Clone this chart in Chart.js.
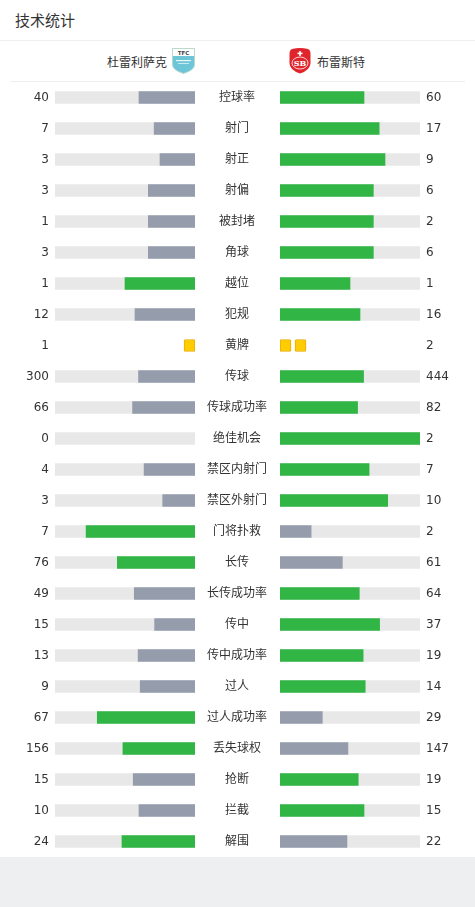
<!DOCTYPE html>
<html>
<head>
<meta charset="utf-8">
<script src="https://cdn.jsdelivr.net/npm/chart.js@4.4.1/dist/chart.umd.min.js"></script>
<style>
    body { margin: 0; background: #eeeff1; font-family: "DejaVu Sans", "Noto Sans CJK SC", sans-serif; color: #333; }
    #card { position: relative; width: 475px; height: 857px; background: #fff; }
    #title { position: absolute; left: 15px; top: 0; height: 40px; line-height: 40px; font-size: 15px; font-family: "Noto Sans CJK SC", sans-serif; }
    #line1 { position: absolute; left: 0; top: 40px; width: 475px; height: 1px; background: #f0f0f0; }
    #line2 { position: absolute; left: 10px; top: 81px; width: 455px; height: 1px; background: #eeeeee; }
    .team { position: absolute; top: 48px; height: 26px; display: flex; align-items: center; font-size: 12px; font-family: "Noto Sans CJK SC", sans-serif; }
    #home { right: 280px; }
    #home svg { margin-left: 5px; }
    #away { left: 289px; }
    #away svg { margin-right: 6px; }
    canvas { position: absolute; top: 82px; }
</style>
</head>
<body>
<div id="card">
    <div id="title">技术统计</div>
    <div id="line1"></div>
    <div class="team" id="home">
        <span>杜雷利萨克</span>
        <svg width="23" height="26" viewBox="0 0 23 26">
            <path d="M0.5 0.5 H22.5 V17 Q22.5 22 11.5 25.5 Q0.5 22 0.5 17 Z" fill="#6cc6d8" stroke="#b9d9c9" stroke-width="1"/>
            <rect x="1" y="1" width="21" height="7" fill="#ffffff"/>
            <text x="11.5" y="6.5" font-size="5.5" font-weight="bold" text-anchor="middle" fill="#444" font-family="DejaVu Sans">TFC</text>
            <rect x="4" y="12" width="15" height="1.2" fill="#e6f6f8"/>
            <rect x="6" y="15" width="11" height="0.8" fill="#e6f6f8"/>
        </svg>
    </div>
    <div class="team" id="away">
        <svg width="22" height="26" viewBox="0 0 22 26">
            <path d="M3 1 Q11 -1 19 1 Q21.5 2 21.5 6 V15 Q21.5 22 11 25.5 Q0.5 22 0.5 15 V6 Q0.5 2 3 1 Z" fill="#e0242b"/>
            <rect x="10.2" y="3" width="1.6" height="5" fill="#fff"/>
            <rect x="8.5" y="4.6" width="5" height="1.6" fill="#fff"/>
            <ellipse cx="11" cy="15" rx="8" ry="6" fill="none" stroke="#fff" stroke-width="0.8"/>
            <text x="11" y="18" font-size="8" font-weight="bold" text-anchor="middle" fill="#fff" font-family="DejaVu Serif">SB</text>
        </svg>
        <span>布雷斯特</span>
    </div>
    <div id="line2"></div>
    <canvas id="homeChart" width="195" height="775" style="left:0;width:195px;height:775px"></canvas>
    <canvas id="awayChart" width="280" height="775" style="left:195px;width:280px;height:775px"></canvas>
</div>
<script>
    // Statistiques du match
    var stats = ['控球率', '射门', '射正', '射偏', '被封堵', '角球', '越位', '犯规', '黄牌', '传球',
        '传球成功率', '绝佳机会', '禁区内射门', '禁区外射门', '门将扑救', '长传', '长传成功率', '传中',
        '传中成功率', '过人', '过人成功率', '丢失球权', '抢断', '拦截', '解围'];
    var homeValues = [40, 7, 3, 3, 1, 3, 1, 12, 1, 300, 66, 0, 4, 3, 7, 76, 49, 15, 13, 9, 67, 156, 15, 10, 24];
    var awayValues = [60, 17, 9, 6, 2, 6, 1, 16, 2, 444, 82, 2, 7, 10, 2, 61, 64, 37, 19, 14, 29, 147, 19, 15, 22];
    var cardStat = '黄牌';

    var GREEN = '#31b545';
    var GREY = '#959cac';
    var TRACK = '#e8e8e8';
    var CARD_SIZE = 11 / 140;
    var CARD_STEP = 15 / 140;
    var FONT = { family: '"DejaVu Sans", "Noto Sans CJK SC", sans-serif', size: 12 };

    function isCard(i) {
        return stats[i] === cardStat;
    }

    function share(mine, other, i) {
        if (isCard(i) || !mine) return null;
        return mine / (mine + other);
    }

    function buildDatasets(mine, other) {
        var datasets = [];
        datasets.push({
            label: 'fill',
            data: mine.map((v, i) => share(v, other[i], i)),
            backgroundColor: mine.map((v, i) => v >= other[i] ? GREEN : GREY),
            order: 1
        });
        datasets.push({
            label: 'track',
            data: stats.map((s, i) => isCard(i) ? null : 1),
            backgroundColor: TRACK,
            order: 2
        });
        // cartons : un petit carré par carton
        var cardIndex = stats.indexOf(cardStat);
        for (var k = 0; k < mine[cardIndex]; k++) {
            datasets.push({
                label: 'card' + k,
                data: stats.map((s, i) => isCard(i) ? [k * CARD_STEP, k * CARD_STEP + CARD_SIZE] : null),
                backgroundColor: '#ffcc00',
                borderColor: '#e8ab00',
                borderWidth: 1,
                borderSkipped: false,
                borderRadius: 1.5,
                order: 0
            });
        }
        datasets.forEach(function (d) {
            d.grouped = false;
            d.barThickness = 12;
        });
        return datasets;
    }

    // pas de marge verticale ajoutée par les libellés
    function fixAxis(width) {
        return function (scale) {
            scale.width = width;
            scale.paddingTop = 0;
            scale.paddingBottom = 0;
        };
    }

    function numberAxis(position, values) {
        return {
            type: 'category',
            position: position,
            labels: values.map(String),
            offset: true,
            grid: { display: false, drawTicks: false },
            border: { display: false },
            ticks: { autoSkip: false, padding: 6, color: '#333', font: FONT },
            afterFit: fixAxis(55)
        };
    }

    var baseOptions = {
        indexAxis: 'y',
        responsive: false,
        animation: false,
        layout: { padding: 0 },
        plugins: { legend: { display: false }, tooltip: { enabled: false } }
    };

    // Graphique gauche : équipe à domicile
    new Chart(document.getElementById('homeChart').getContext('2d'), {
        type: 'bar',
        data: { labels: stats, datasets: buildDatasets(homeValues, awayValues) },
        options: Object.assign({}, baseOptions, {
            scales: {
                x: { display: false, min: 0, max: 1, reverse: true },
                y: numberAxis('left', homeValues)
            }
        })
    });

    // Graphique droit : équipe à l'extérieur + libellés
    new Chart(document.getElementById('awayChart').getContext('2d'), {
        type: 'bar',
        data: { labels: stats, datasets: buildDatasets(awayValues, homeValues) },
        options: Object.assign({}, baseOptions, {
            scales: {
                x: { display: false, min: 0, max: 1 },
                y: {
                    type: 'category',
                    position: 'left',
                    offset: true,
                    grid: { display: false, drawTicks: false },
                    border: { display: false },
                    ticks: { autoSkip: false, padding: 13, crossAlign: 'center', color: '#333', font: FONT },
                    afterFit: fixAxis(85)
                },
                yNum: numberAxis('right', awayValues)
            }
        })
    });
</script>
</body>
</html>
